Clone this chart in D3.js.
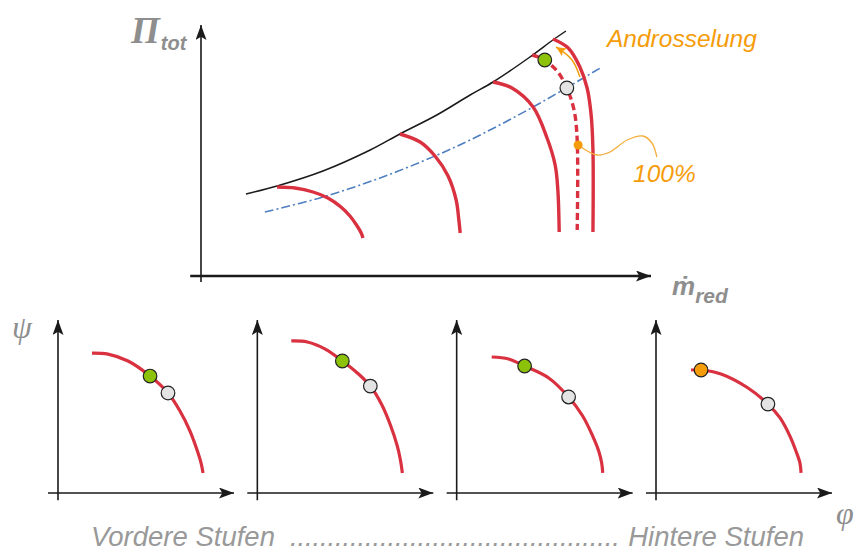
<!DOCTYPE html>
<html>
<head>
<meta charset="utf-8">
<script src="https://cdn.jsdelivr.net/npm/d3@7"></script>
<style>
  html, body { margin: 0; padding: 0; background: #fff; }
  svg { display: block; }
</style>
</head>
<body>
<svg id="chart" width="854" height="552"></svg>
<script>
// ---- Overall compressor map (x: reduced mass flow, y: total pressure ratio, arbitrary units)
const surgeLine = [[1.0,3.28],[1.69,3.6],[2.71,4.2],[3.76,5.04],[4.42,5.68],[5.24,6.44],[5.98,7.24],[6.49,7.76],[7.31,8.76],[7.82,9.44],[8.11,9.8]];
const operatingLine = [[1.42,2.56],[2.71,3.16],[3.98,3.92],[5.2,4.8],[5.98,5.44],[7.38,6.76],[8.91,8.36]];
const speedLines = [
  [[1.69,3.56],[2.09,3.52],[2.49,3.36],[2.82,3.12],[3.11,2.76],[3.31,2.4],[3.47,2.0],[3.56,1.72],[3.6,1.52]],
  [[4.42,5.68],[4.87,5.36],[5.2,4.8],[5.49,4.0],[5.67,3.04],[5.73,2.24],[5.76,1.72]],
  [[6.49,7.76],[6.91,7.52],[7.38,6.76],[7.69,5.52],[7.87,4.44],[7.93,3.44],[7.96,1.76]],
  [[7.82,9.48],[8.16,9.12],[8.42,8.36],[8.58,7.52],[8.67,6.44],[8.71,5.04],[8.71,1.76]]
];
const throttledSpeedLine = [[7.36,8.84],[7.64,8.64],[7.93,8.16],[8.13,7.52],[8.29,6.64],[8.36,5.44],[8.36,1.84]];
const designPoint = [8.13, 7.52];      // on the operating line
const throttledPoint = [7.64, 8.64];   // pushed toward surge
const fullSpeedPoint = [8.38, 5.24];   // "100%" marker
const throttleArrow = [[8.42,7.96],[8.27,8.72],[7.89,9.16]];
const fullSpeedLeader = [[8.38,5.24],[8.8,4.84],[9.09,4.96],[9.47,5.44],[9.82,5.6],[10.02,5.32],[10.13,4.76]];

// ---- Stage characteristics (x: flow coefficient phi, y: work coefficient psi)
const stageCurves = [
  [[1.93,8.09],[2.84,8.03],[3.98,7.63],[5.23,6.76],[6.25,5.78],[6.93,4.74],[7.5,3.58],[7.9,2.49],[8.13,1.73],[8.24,1.16]],
  [[1.93,8.79],[2.84,8.73],[3.86,8.32],[4.83,7.63],[5.68,6.94],[6.42,6.18],[7.05,5.14],[7.56,3.93],[7.95,2.72],[8.13,1.91],[8.24,1.16]],
  [[1.99,7.86],[2.95,7.75],[3.86,7.34],[5.23,6.65],[6.36,5.55],[7.16,4.45],[7.73,3.29],[8.07,2.43],[8.24,1.73],[8.3,1.16]],
  [[1.99,7.11],[2.56,7.11],[3.69,6.88],[5.23,6.07],[6.36,5.14],[7.05,4.34],[7.61,3.29],[7.95,2.43],[8.18,1.73],[8.24,1.16]]
];
const stageDesign = [[6.25,5.78],[6.42,6.18],[6.36,5.55],[6.36,5.14]];
const stageThrottled = [[5.23,6.76],[4.83,7.63],[3.86,7.34],[2.56,7.11]];

// ---- Labels
const labelThrottle = "Androsselung";
const labelFull = "100%";
const labelStages = ["Vordere Stufen", "Hintere Stufen"];

const C = {
  red: "#d9313f", blue: "#4f7fc0", axis: "#1a1a1a", grey: "#e4e4e4",
  green: "#8cc20a", orange: "#f59c0a", orangeLight: "#f5ae3c", text: "#8e8e8e"
};
const sans = "'Liberation Sans', Arial, 'DejaVu Sans', sans-serif";
const serif = "'Liberation Serif', 'Times New Roman', serif";

const svg = d3.select("#chart");
const defs = svg.append("defs");

function arrowMarker(id, color, len, half) {
  defs.append("marker")
    .attr("id", id).attr("markerUnits", "userSpaceOnUse")
    .attr("viewBox", `0 ${-half} ${len} ${2 * half}`)
    .attr("refX", len).attr("refY", 0)
    .attr("markerWidth", len).attr("markerHeight", 2 * half)
    .attr("orient", "auto")
    .append("path")
    .attr("d", `M0,${-half} L${len},0 L0,${half} L${len * 0.22},0 Z`)
    .attr("fill", color);
}
arrowMarker("ax-arrow", C.axis, 15, 5.5);
arrowMarker("or-arrow", C.orange, 10, 4.5);

// ================= Main map =================
const x = d3.scaleLinear().domain([0, 10]).range([201, 651]);
const y = d3.scaleLinear().domain([0, 10]).range([276, 26]);
const lineMain = d3.line().x(d => x(d[0])).y(d => y(d[1])).curve(d3.curveCatmullRom.alpha(0.5));

const main = svg.append("g");

// axes
main.append("line")
  .attr("x1", x(-0.24)).attr("y1", y(0)).attr("x2", x(10)).attr("y2", y(0))
  .attr("stroke", C.axis).attr("stroke-width", 2.6).attr("marker-end", "url(#ax-arrow)");
main.append("line")
  .attr("x1", x(0)).attr("y1", y(-0.24)).attr("x2", x(0)).attr("y2", y(10.04))
  .attr("stroke", C.axis).attr("stroke-width", 1.6).attr("marker-end", "url(#ax-arrow)");

// operating line (dash-dot)
main.append("path").datum(operatingLine)
  .attr("d", lineMain).attr("fill", "none")
  .attr("stroke", C.blue).attr("stroke-width", 1.6)
  .attr("stroke-dasharray", "9,3,2,3");

// surge line
main.append("path").datum(surgeLine)
  .attr("d", lineMain).attr("fill", "none")
  .attr("stroke", C.axis).attr("stroke-width", 1.5);

// speed lines
main.selectAll(".speed").data(speedLines).join("path")
  .attr("class", "speed").attr("d", lineMain).attr("fill", "none")
  .attr("stroke", C.red).attr("stroke-width", 3.4);

main.append("path").datum(throttledSpeedLine)
  .attr("d", lineMain).attr("fill", "none")
  .attr("stroke", C.red).attr("stroke-width", 3.4)
  .attr("stroke-dasharray", "7,4");

// throttling arrow
main.append("path").datum(throttleArrow)
  .attr("d", d3.line().x(d => x(d[0])).y(d => y(d[1])).curve(d3.curveBasis))
  .attr("fill", "none").attr("stroke", C.orange).attr("stroke-width", 1.5)
  .attr("marker-end", "url(#or-arrow)");

// 100% leader
main.append("path").datum(fullSpeedLeader)
  .attr("d", lineMain).attr("fill", "none")
  .attr("stroke", C.orangeLight).attr("stroke-width", 1.3);

main.append("circle")
  .attr("cx", x(fullSpeedPoint[0])).attr("cy", y(fullSpeedPoint[1])).attr("r", 4.5)
  .attr("fill", C.orange);

main.append("circle")
  .attr("cx", x(throttledPoint[0])).attr("cy", y(throttledPoint[1])).attr("r", 6.8)
  .attr("fill", C.green).attr("stroke", "#222").attr("stroke-width", 1.2);
main.append("circle")
  .attr("cx", x(designPoint[0])).attr("cy", y(designPoint[1])).attr("r", 6.8)
  .attr("fill", C.grey).attr("stroke", "#222").attr("stroke-width", 1.2);

// axis titles
const piT = main.append("text").attr("x", 131).attr("y", 43)
  .attr("fill", C.text).attr("font-family", serif).attr("font-style", "italic")
  .attr("font-weight", "bold").attr("font-size", 37);
piT.append("tspan").text("Π");
piT.append("tspan").attr("font-family", sans)
  .attr("font-size", 20).attr("dy", 7).attr("dx", 1).text("tot");

const mT = main.append("text").attr("x", 672).attr("y", 295)
  .attr("fill", C.text).attr("font-family", sans).attr("font-style", "italic")
  .attr("font-weight", "bold").attr("font-size", 26);
mT.append("tspan").text("ṁ");
mT.append("tspan").attr("font-size", 21).attr("dy", 8).text("red");

main.append("text").attr("x", 607).attr("y", 47)
  .attr("fill", C.orange).attr("font-family", sans).attr("font-style", "italic")
  .attr("font-size", 24.5).text(labelThrottle);
main.append("text").attr("x", 633).attr("y", 182)
  .attr("fill", C.orange).attr("font-family", sans).attr("font-style", "italic")
  .attr("font-size", 24.5).text(labelFull);

// ================= Stage characteristics =================
const panelLeft = d3.scaleLinear().domain([0, 3]).range([58, 656]);
const py = d3.scaleLinear().domain([0, 10]).range([493, 320]);

stageCurves.forEach((curve, i) => {
  const x0 = panelLeft(i);
  const px = d3.scaleLinear().domain([0, 10]).range([x0, x0 + 176]);
  const line = d3.line().x(d => px(d[0])).y(d => py(d[1])).curve(d3.curveCatmullRom.alpha(0.5));
  const g = svg.append("g");

  g.append("line")
    .attr("x1", px(-0.57)).attr("y1", py(0)).attr("x2", px(10)).attr("y2", py(0))
    .attr("stroke", C.axis).attr("stroke-width", 1.6).attr("marker-end", "url(#ax-arrow)");
  g.append("line")
    .attr("x1", px(0)).attr("y1", py(-0.42)).attr("x2", px(0)).attr("y2", py(10))
    .attr("stroke", C.axis).attr("stroke-width", 1.6).attr("marker-end", "url(#ax-arrow)");

  g.append("path").datum(curve).attr("d", line).attr("fill", "none")
    .attr("stroke", C.red).attr("stroke-width", 3.2);

  const t = stageThrottled[i];
  g.append("circle").attr("cx", px(t[0])).attr("cy", py(t[1])).attr("r", 6.8)
    .attr("fill", i === 3 ? C.orange : C.green).attr("stroke", "#222").attr("stroke-width", 1.2);
  const dp = stageDesign[i];
  g.append("circle").attr("cx", px(dp[0])).attr("cy", py(dp[1])).attr("r", 6.8)
    .attr("fill", C.grey).attr("stroke", "#222").attr("stroke-width", 1.2);
});

svg.append("text").attr("x", 12).attr("y", 338)
  .attr("fill", C.text).attr("font-family", serif).attr("font-style", "italic")
  .attr("font-size", 32).text("ψ");
svg.append("text").attr("x", 836).attr("y", 524)
  .attr("fill", C.text).attr("font-family", serif).attr("font-style", "italic")
  .attr("font-size", 32).text("φ");

// front stages ........ rear stages
const caption = svg.append("g")
  .attr("fill", "#999").attr("font-family", sans).attr("font-style", "italic")
  .attr("font-size", 27.5);
caption.append("text").attr("x", 91).attr("y", 546).text(labelStages[0]);
caption.append("text").attr("x", 290).attr("y", 546)
  .attr("textLength", 330).attr("lengthAdjust", "spacing")
  .text(".".repeat(44));
caption.append("text").attr("x", 804).attr("y", 546)
  .attr("text-anchor", "end").text(labelStages[1]);
</script>
</body>
</html>
